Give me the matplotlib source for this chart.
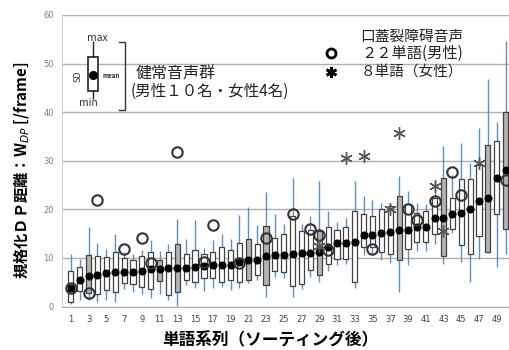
import matplotlib
matplotlib.use("Agg")
import matplotlib.pyplot as plt
import numpy as np

plt.rcParams['font.family'] = ['Noto Sans CJK JP', 'DejaVu Sans']

words = list(range(1, 51))
means = [3.9, 5.4, 6.2, 6.4, 6.8, 7.0, 7.2, 7.2, 7.3, 7.7,
         7.7, 7.9, 7.9, 7.9, 8.2, 8.4, 8.5, 8.5, 8.6, 9.1,
         9.6, 9.6, 10.4, 10.5, 10.7, 10.9, 11.0, 11.1, 11.3, 12.2,
         13.1, 13.1, 13.2, 14.7, 14.7, 15.1, 15.3, 15.8, 15.8, 16.3,
         16.4, 18.3, 18.3, 19.1, 19.3, 20.0, 21.7, 22.3, 26.4, 28.0]
sd_top = [7.4, 8.1, 10.5, 10.3, 10.1, 11.2, 9.9, 9.5, 10.3, 11.2,
          9.5, 11.2, 12.9, 10.9, 11.6, 10.9, 11.2, 12.2, 11.6, 13.0,
          13.9, 12.9, 16.5, 14.2, 14.9, 18.7, 15.6, 15.8, 15.6, 16.3,
          15.8, 16.3, 19.7, 19.0, 18.7, 20.0, 20.7, 22.8, 21.1, 19.3,
          19.6, 22.4, 26.5, 22.4, 26.2, 26.2, 29.2, 33.3, 34.0, 40.0]
sd_bottom = [1.0, 3.2, 2.7, 2.6, 3.3, 3.0, 4.8, 4.7, 4.1, 3.7,
             5.3, 2.3, 3.0, 5.4, 5.0, 5.9, 5.8, 5.0, 5.4, 5.0,
             5.4, 6.5, 4.4, 7.4, 7.0, 4.2, 4.7, 7.5, 6.4, 8.8,
             9.8, 9.8, 5.1, 12.2, 12.2, 11.2, 10.9, 9.5, 11.9, 13.2,
             13.2, 14.9, 10.3, 16.0, 12.6, 10.9, 14.6, 11.2, 19.0, 16.0]
maxima = [10.9, 9.8, 16.3, 13.0, 11.9, 14.9, 11.2, 10.9, 11.7, 13.7,
          11.5, 12.8, 18.0, 13.9, 17.9, 12.0, 13.7, 15.0, 13.9, 18.9,
          20.5, 16.8, 23.5, 19.0, 17.0, 26.5, 17.0, 18.7, 25.8, 19.7,
          17.3, 18.3, 25.8, 22.8, 21.9, 21.4, 21.0, 26.8, 23.8, 21.4,
          21.1, 25.8, 33.0, 27.0, 33.6, 29.6, 36.8, 46.9, 38.0, 54.7]
minima = [0.5, 1.3, 1.3, 1.0, 1.3, 1.0, 3.5, 3.0, 2.6, 1.7,
          2.6, 1.3, 0.1, 4.4, 3.9, 3.2, 3.9, 4.1, 3.4, 3.9,
          4.9, 5.4, 2.0, 6.1, 5.8, 2.0, 3.7, 6.1, 5.1, 7.4,
          8.5, 8.8, 3.9, 10.5, 10.9, 9.5, 9.0, 3.0, 8.5, 11.5,
          11.5, 12.9, 8.8, 15.1, 9.1, 5.1, 9.8, 11.0, 8.1, 10.9]
gray_boxes = [3, 11, 13, 21, 23, 29, 38, 43, 48, 50]

male_words = [1, 3, 4, 7, 9, 10, 13, 16, 17, 20, 23, 26, 28, 29, 30, 35, 39, 40, 42, 44, 45, 50]
male_values = [3.8, 2.8, 22.0, 11.8, 14.0, 9.0, 31.8, 9.1, 16.8, 9.0, 14.1, 19.0, 16.0, 14.8, 11.7, 11.9, 20.0, 17.9, 21.7, 27.7, 23.0, 26.0]
female_words = [29, 32, 34, 37, 38, 42, 43, 47]
female_values = [12.5, 30.6, 30.9, 20.0, 35.7, 24.8, 15.5, 29.6]

xtick_labels = [str(i) for i in range(1, 50, 2)]
yticks = [0, 10, 20, 30, 40, 50, 60]

fig = plt.figure(figsize=(5.1, 3.5), dpi=100)
ax = fig.add_axes([62/510, 43.5/350, 448/510, 291.5/350])

x = np.array(words)
ax.vlines(x, minima, maxima, color='#5b8fc7', lw=1.0, zorder=2)
heights = np.array(sd_top) - np.array(sd_bottom)
fills = ['#b4b4b4' if w in gray_boxes else 'white' for w in words]
ax.bar(x, heights, bottom=sd_bottom, width=0.58, color=fills,
       edgecolor='#404040', linewidth=0.9, zorder=3)
ax.plot(x, means, 'o', color='black', ms=4.8, zorder=5, ls='none')
ax.plot(male_words, male_values, 'o', mfc='none', mec='#333333', mew=1.5,
        ms=7.5, ls='none', zorder=6)
ax.plot(female_words, female_values, marker=(6, 2, 0), color='#555555',
        ms=9, mew=1.0, ls='none', zorder=6)

ax.set_xlim(0, 50.5)
ax.set_ylim(0, 60)
ax.set_yticks(yticks)
ax.set_yticklabels([str(v) for v in yticks], fontsize=6, color='#7f7f7f',
                   family='DejaVu Sans')
ax.set_xticks(range(1, 50, 2))
ax.set_xticklabels(xtick_labels, fontsize=6, color='#4a3f2a', family='DejaVu Sans')
ax.tick_params(axis='both', length=0, pad=6)
ax.grid(axis='y', color='#b0b0b0', lw=1.0)
ax.set_axisbelow(True)
for s in ['top', 'right']:
    ax.spines[s].set_visible(False)
ax.spines['left'].set_color('#d0d0d0')
ax.spines['bottom'].set_color('#b0b0b0')

# legend diagram for normal speech group
ax.vlines(3.5, 42.8, 54.6, color='#222222', lw=1.0, zorder=2)
ax.bar([3.5], [51.3 - 44.4], bottom=[44.4], width=1.2, color='white',
       edgecolor='#222222', linewidth=1.2, zorder=3)
ax.plot([3.5], [47.6], 'o', color='black', ms=5.5, zorder=5)
ax.text(4.0, 55.2, 'max', fontsize=7.5, ha='center', va='center', color='#333333')
ax.text(3.0, 41.8, 'min', fontsize=7.5, ha='center', va='center', color='#333333')
ax.text(1.8, 47.4, 'SD', fontsize=6.5, rotation=90, ha='center', va='center', color='#333333')
ax.text(4.6, 47.6, 'mean', fontsize=4.5, ha='left', va='center', color='#222222',
        fontweight='bold')
ax.plot([6.4, 7.1, 7.1, 6.4], [54.5, 54.5, 40.4, 40.4], color='#333333', lw=1.0)
ax.text(8.3, 47.8, '健常音声群', fontsize=11.5, ha='left', va='center', color='#222222')
ax.text(7.7, 44.2, '(男性１０名・女性4名)', fontsize=11.2, ha='left', va='center',
        color='#222222')

# legend for cleft palate speech
ax.text(45.2, 55.4, '口蓋裂障碍音声', fontsize=10.6, ha='right', va='center', color='#222222')
ax.text(45.2, 52.2, '２２単語(男性)', fontsize=11, ha='right', va='center', color='#222222')
ax.text(45.2, 48.3, '８単語（女性）', fontsize=10.5, ha='right', va='center', color='#222222')
ax.plot([30.3], [52.2], 'o', mfc='none', mec='black', mew=2.0, ms=6.5)
ax.plot([30.3], [48.2], marker=(6, 2, 0), color='black', ms=8, mew=2.0)

fig.text(270/510, 1 - 340/350, '単語系列（ソーティング後）', fontsize=12, fontweight='bold',
         ha='center', va='center')
fig.text(22/510, 1 - 170/350, '規格化ＤＰ距離：W$_{DP}$ [/frame]', fontsize=11,
         fontweight='bold', rotation=90, ha='center', va='center')

fig.savefig('out.png', dpi=100)
